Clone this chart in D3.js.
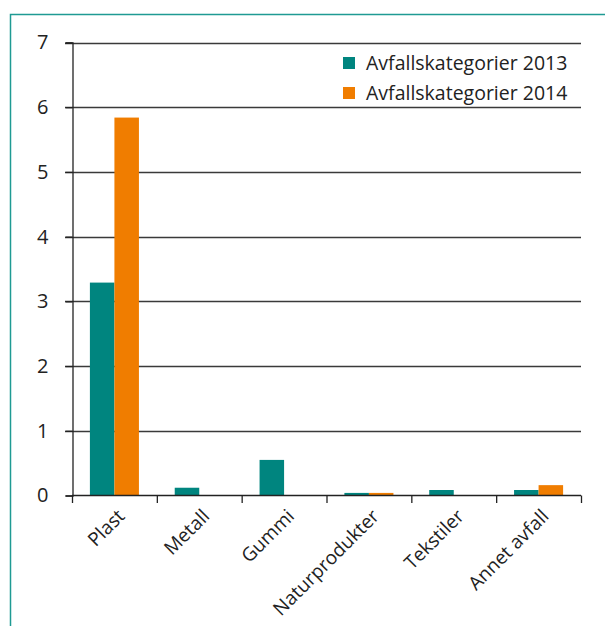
<!DOCTYPE html>
<html>
<head>
<meta charset="utf-8">
<script src="https://cdn.jsdelivr.net/npm/d3@7"></script>
<style>
  html, body { margin: 0; padding: 0; background: #fff; }
  svg { display: block; font-family: "Open Sans", "Noto Sans", sans-serif; }
</style>
</head>
<body>
<svg id="chart" width="605" height="626"></svg>
<script>
// Waste categories and amounts per year
const categories = ["Plast", "Metall", "Gummi", "Naturprodukter", "Tekstiler", "Annet avfall"];
const series = ["Avfallskategorier 2013", "Avfallskategorier 2014"];
const values2013 = [3.29, 0.12, 0.55, 0.04, 0.085, 0.085];
const values2014 = [5.84, 0, 0, 0.04, 0, 0.16];
const yTicks = [0, 1, 2, 3, 4, 5, 6, 7];
const colors = ["#00857f", "#f07d00"];

const svg = d3.select("#chart");
const margin = { left: 72, right: 24, top: 42, bottom: 130.5 };

// Frame around the figure
svg.append("path")
  .attr("d", "M10.5,626 V14.5 H605")
  .attr("fill", "none")
  .attr("stroke", "#1f9a93")
  .attr("stroke-width", 1.5);

const x0 = d3.scaleBand().domain(categories)
  .range([margin.left, 581]).paddingInner(0).paddingOuter(0);
const x1 = d3.scaleBand().domain(series)
  .range([0, x0.bandwidth()]).paddingInner(0).paddingOuter(0.73);
const y = d3.scaleLinear().domain([0, 7]).range([495.5, 42.5]);

// Horizontal grid lines
svg.append("g").selectAll("line").data(yTicks.filter(d => d > 0)).join("line")
  .attr("x1", margin.left - 7).attr("x2", 581)
  .attr("y1", d => Math.round(y(d)) + 0.5).attr("y2", d => Math.round(y(d)) + 0.5)
  .attr("stroke", "#3a3a3a").attr("stroke-width", 1.3);

// Bars
const data = categories.map((c, i) => ({ c, v: [values2013[i], values2014[i]] }));
const groups = svg.append("g").selectAll("g").data(data).join("g")
  .attr("transform", d => `translate(${x0(d.c)},0)`);
groups.selectAll("rect")
  .data(d => d.v.map((v, j) => ({ s: series[j], v, j })).filter(e => e.v > 0))
  .join("rect")
  .attr("x", e => x1(e.s))
  .attr("width", x1.bandwidth())
  .attr("y", e => y(e.v))
  .attr("height", e => y(0) - y(e.v))
  .attr("fill", e => colors[e.j]);

// Y axis
const yAxis = d3.axisLeft(y).tickValues(yTicks).tickSize(7).tickPadding(17).tickFormat(d3.format("d"));
const gy = svg.append("g").attr("transform", `translate(${margin.left + 0.5},0)`).call(yAxis);
gy.select(".domain").attr("stroke", "#222").attr("stroke-width", 1.3);
gy.selectAll(".tick line").attr("stroke", "#222").attr("stroke-width", 1.3);
gy.selectAll(".tick text").attr("font-size", 20).attr("fill", "#222")
  .attr("font-family", "'Open Sans', sans-serif");

// X axis
const ticksX = categories.map(c => x0(c)).concat([x0.range()[1]]);
const gx = svg.append("g");
gx.append("line").attr("x1", margin.left).attr("x2", 581)
  .attr("y1", 495.5).attr("y2", 495.5).attr("stroke", "#222").attr("stroke-width", 1.3);
gx.selectAll("line.t").data(ticksX).join("line").attr("class", "t")
  .attr("x1", d => d + 0.5).attr("x2", d => d + 0.5)
  .attr("y1", 495.5).attr("y2", 503).attr("stroke", "#222").attr("stroke-width", 1.3);
gx.selectAll("text").data(categories).join("text")
  .attr("transform", c => `translate(${x0(c) + x0.bandwidth() / 2 + 2},${508}) rotate(-45)`)
  .attr("text-anchor", "end")
  .attr("dy", "0.7em")
  .attr("font-size", 19)
  .attr("fill", "#222")
  .text(c => c);

// Legend
const legend = svg.append("g").attr("transform", "translate(343,57)");
series.forEach((s, i) => {
  const g = legend.append("g").attr("transform", `translate(0,${i * 30})`);
  g.append("rect").attr("width", 12).attr("height", 12).attr("fill", colors[i]);
  g.append("text").attr("x", 23).attr("y", 13).attr("font-size", 19.5).attr("fill", "#222").text(s);
});
</script>
</body>
</html>
